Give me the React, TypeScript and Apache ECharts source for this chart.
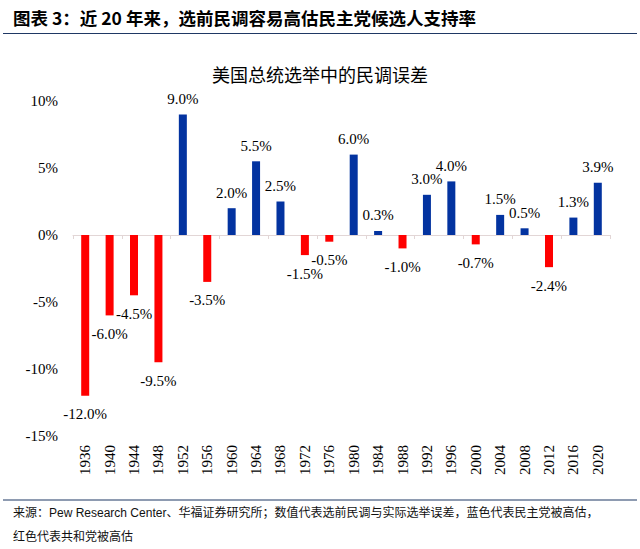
import React, { useEffect, useRef } from "react";
import * as echarts from "echarts";

const years = ["1936","1940","1944","1948","1952","1956","1960","1964","1968","1972","1976","1980","1984","1988","1992","1996","2000","2004","2008","2012","2016","2020"];
const errors = [-12.0,-6.0,-4.5,-9.5,9.0,-3.5,2.0,5.5,2.5,-1.5,-0.5,6.0,0.3,-1.0,3.0,4.0,-0.7,1.5,0.5,-2.4,1.3,3.9];
const yTicks = [-15, -10, -5, 0, 5, 10];

const headerText = "图表 3：近 20 年来，选前民调容易高估民主党候选人支持率";
const chartTitle = "美国总统选举中的民调误差";
const sourceLine1 = "来源：Pew Research Center、华福证券研究所；数值代表选前民调与实际选举误差，蓝色代表民主党被高估，";
const sourceLine2 = "红色代表共和党被高估";

const BLUE = "#0333a0";
const RED = "#ff0000";
const SERIF = "'Liberation Serif', 'Times New Roman', 'Noto Sans CJK SC', serif";
const CJK = "'Liberation Sans', 'Noto Sans CJK SC', sans-serif";

export default function App() {
  const ref = useRef<HTMLDivElement>(null);
  useEffect(() => {
    document.body.style.margin = "0";
    if (!ref.current) return;
    const chart = echarts.init(ref.current, null, { renderer: "svg" });
    const option = {
      animation: false,
      backgroundColor: "#ffffff",
      title: {
        text: chartTitle,
        left: "center",
        top: 60,
        textStyle: { fontSize: 18, fontWeight: "normal", color: "#000", fontFamily: "'Noto Sans CJK SC', serif" },
      },
      grid: { left: 73, right: 30, top: 101, bottom: 113 },
      xAxis: [
        {
          type: "category",
          data: years,
          axisLine: { onZero: true, lineStyle: { color: "#e2d6d6", width: 1 } },
          axisTick: { show: true, alignWithLabel: false, length: 4, lineStyle: { color: "#e2d6d6" } },
          axisLabel: { show: false },
        },
        {
          type: "category",
          data: years,
          position: "bottom",
          axisLine: { show: false, onZero: false },
          axisTick: { show: false },
          axisLabel: { rotate: 90, margin: 9, fontSize: 15, color: "#000", fontFamily: SERIF },
        },
      ],
      yAxis: {
        type: "value",
        min: yTicks[0],
        max: yTicks[yTicks.length - 1],
        interval: 5,
        axisLine: { show: false },
        axisTick: { show: false },
        splitLine: { show: false },
        axisLabel: { margin: 15, fontSize: 15, color: "#000", fontFamily: SERIF, formatter: (v: number) => v + "%" },
      },
      series: [
        {
          type: "bar",
          xAxisIndex: 0,
          barWidth: 8,
          data: errors.map((v) => ({
            value: v,
            itemStyle: { color: v >= 0 ? BLUE : RED },
            label: {
              show: true,
              position: v >= 0 ? "top" : "bottom",
              distance: v >= 0 ? 8 : 11,
              formatter: v.toFixed(1) + "%",
              fontSize: 15,
              color: "#000",
              fontFamily: SERIF,
            },
          })),
        },
      ],
      graphic: [
        {
          type: "text",
          left: 13,
          top: 9,
          style: { text: headerText, fontSize: 17.5, fontWeight: "bold", fill: "#000", fontFamily: "'Noto Sans CJK SC', sans-serif" },
        },
        {
          type: "line",
          shape: { x1: 3, y1: 33.5, x2: 637, y2: 33.5 },
          style: { stroke: "#1f3864", lineWidth: 1.2 },
        },
        {
          type: "line",
          shape: { x1: 3, y1: 500, x2: 637, y2: 500 },
          style: { stroke: "#1f3864", lineWidth: 1.2 },
        },
        {
          type: "text",
          left: 13,
          top: 507,
          style: { text: sourceLine1, fontSize: 12, fill: "#111", fontFamily: CJK },
        },
        {
          type: "text",
          left: 13,
          top: 531,
          style: { text: sourceLine2, fontSize: 12, fill: "#111", fontFamily: CJK },
        },
      ],
    };
    chart.setOption(option);
    return () => chart.dispose();
  }, []);
  return <div ref={ref} style={{ width: 640, height: 549 }} />;
}
